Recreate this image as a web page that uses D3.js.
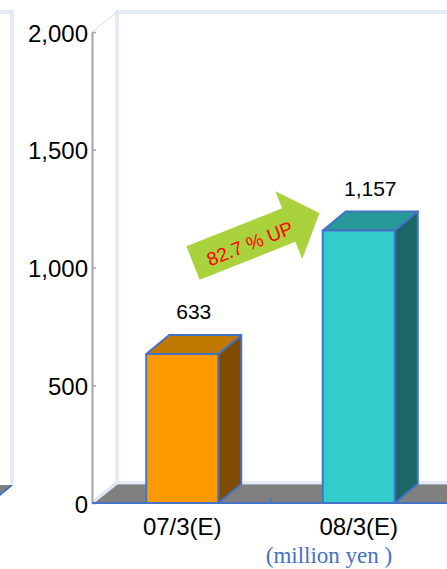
<!DOCTYPE html>
<html>
<head>
<meta charset="utf-8">
<script src="https://cdn.jsdelivr.net/npm/d3@7"></script>
<style>
  html, body { margin: 0; padding: 0; background: #fff; }
  svg { display: block; }
</style>
</head>
<body>
<svg id="chart" width="447" height="569" font-family="'Liberation Sans', Arial, sans-serif"></svg>
<script>
// Fiscal years and the amounts (million yen)
const categories = ["07/3(E)", "08/3(E)"];
const values = [633, 1157];
const yTicks = [0, 500, 1000, 1500, 2000];
const growthLabel = "82.7 % UP";
const unitLabel = "(million yen )";

// Face colours per bar: front, top, side
const palette = [
  { front: "#FF9900", top: "#C07800", side: "#7F4C00" },
  { front: "#33CCCC", top: "#27999A", side: "#1B6666" }
];

const W = 447, H = 569;
const svg = d3.select("#chart");

// Front plane of the 3D plot
const x0 = 92, baseY = 503;
const depth = { dx: 25, dy: -20 };     // wall / floor depth
const barDepth = { dx: 23, dy: -19 };  // bar depth

const y = d3.scaleLinear().domain([0, 2000]).range([baseY, 32]);
const p = 0.592;
const x = d3.scaleBand().domain(categories).range([94, 447])
  .paddingInner(p).paddingOuter(p / 2);

const wallStroke = "#CCD9EE";

function doubleLine(g, d) {
  g.append("path").attr("d", d).attr("fill", "none")
    .attr("stroke", wallStroke).attr("stroke-width", 3);
  g.append("path").attr("d", d).attr("fill", "none")
    .attr("stroke", "#fff").attr("stroke-width", 1);
}

// Edge of the neighbouring panel on the left
const left = svg.append("g");
left.append("path")
  .attr("d", `M0,${baseY + depth.dy + 2} L12,${baseY + depth.dy + 2} L0,${baseY + depth.dy + 2 + 12 * 0.8} Z`)
  .attr("fill", "#808080");
left.append("line")
  .attr("x1", 12).attr("y1", baseY + depth.dy + 2)
  .attr("x2", -4).attr("y2", baseY + depth.dy + 2 + 16 * 0.8)
  .attr("stroke", "#4472C4").attr("stroke-width", 2);
doubleLine(left, `M0,12 L12,12 L12,${baseY + depth.dy + 2}`);

// Walls and floor
const walls = svg.append("g");
const topBack = y(2000) + depth.dy;
const floorBack = baseY + depth.dy;
walls.append("path")
  .attr("d", `M${x0},${baseY} L${W},${baseY} L${W},${floorBack} L${x0 + depth.dx},${floorBack} Z`)
  .attr("fill", "#808080");
doubleLine(walls, `M${W + 2},${topBack} L${x0 + depth.dx},${topBack} L${x0 + depth.dx},${floorBack} L${W + 2},${floorBack}`);
doubleLine(walls, `M${x0},${baseY} L${x0 + depth.dx},${floorBack}`);
walls.append("line")
  .attr("x1", x0).attr("y1", y(2000))
  .attr("x2", x0 + depth.dx).attr("y2", topBack)
  .attr("stroke", "#D5DFEE").attr("stroke-width", 1);

// Y axis with inward ticks
const yAxis = d3.axisLeft(y).tickValues(yTicks).tickFormat(d3.format(","))
  .tickSizeInner(-4).tickSizeOuter(0).tickPadding(4);
const ag = svg.append("g").attr("transform", `translate(${x0},0)`).call(yAxis);
ag.attr("font-family", null).attr("font-size", null);
ag.select(".domain").attr("stroke", "#A6A6A6").attr("stroke-width", 2);
ag.selectAll(".tick line").attr("stroke", "#A6A6A6").attr("stroke-width", 1.5);
ag.selectAll(".tick text")
  .attr("fill", "#000").attr("font-size", 24)
  .attr("dy", null).attr("y", 9);

// Bars
const bars = svg.append("g").selectAll("g").data(values).join("g");
bars.each(function (v, i) {
  const g = d3.select(this);
  const bx = x(categories[i]), bw = x.bandwidth(), ty = y(v);
  const c = palette[i];
  const { dx, dy } = barDepth;
  const edge = { stroke: "#4472C4", "stroke-width": 2, "stroke-linejoin": "round" };
  const apply = s => { for (const k in edge) s.attr(k, edge[k]); return s; };
  apply(g.append("path")
    .attr("d", `M${bx + bw},${ty} L${bx + bw + dx},${ty + dy} L${bx + bw + dx},${baseY + dy} L${bx + bw},${baseY} Z`)
    .attr("fill", c.side));
  apply(g.append("path")
    .attr("d", `M${bx},${ty} L${bx + dx},${ty + dy} L${bx + bw + dx},${ty + dy} L${bx + bw},${ty} Z`)
    .attr("fill", c.top));
  apply(g.append("rect")
    .attr("x", bx).attr("y", ty).attr("width", bw).attr("height", baseY - ty)
    .attr("fill", c.front));
  g.append("text")
    .attr("x", bx + bw / 2 + dx / 2).attr("y", ty + dy - 16)
    .attr("text-anchor", "middle").attr("font-size", 21).attr("fill", "#000")
    .text(d3.format(",")(v));
});

// Floor front edge, category divider and labels
svg.append("line")
  .attr("x1", x0).attr("y1", baseY).attr("x2", W).attr("y2", baseY)
  .attr("stroke", "#4472C4").attr("stroke-width", 2);
const mid = (x(categories[0]) + x(categories[1]) + x.bandwidth()) / 2;
svg.append("line")
  .attr("x1", mid).attr("y1", baseY).attr("x2", mid).attr("y2", baseY - 5)
  .attr("stroke", "#4472C4").attr("stroke-width", 1.5);
svg.append("g").selectAll("text").data(categories).join("text")
  .attr("x", d => x(d) + x.bandwidth() / 2)
  .attr("y", 535)
  .attr("text-anchor", "middle").attr("font-size", 24).attr("fill", "#000")
  .text(d => d);

// Unit note
svg.append("text")
  .attr("x", 329).attr("y", 563)
  .attr("text-anchor", "middle")
  .attr("font-family", "'Liberation Serif', 'Times New Roman', serif")
  .attr("font-size", 23).attr("fill", "#4472C4")
  .attr("xml:space", "preserve")
  .text(unitLabel);

// Growth arrow
const arrow = svg.append("g").attr("transform", "translate(193,263) rotate(-21.6)");
arrow.append("path")
  .attr("d", "M0,-18 L103,-18 L103,-36.5 L136,0 L103,36.5 L103,18 L0,18 Z")
  .attr("fill", "#A9D23C");
arrow.append("text")
  .attr("x", 60).attr("y", 3)
  .attr("text-anchor", "middle").attr("dominant-baseline", "central")
  .attr("font-size", 19).attr("fill", "#FF0000")
  .text(growthLabel);
</script>
</body>
</html>
